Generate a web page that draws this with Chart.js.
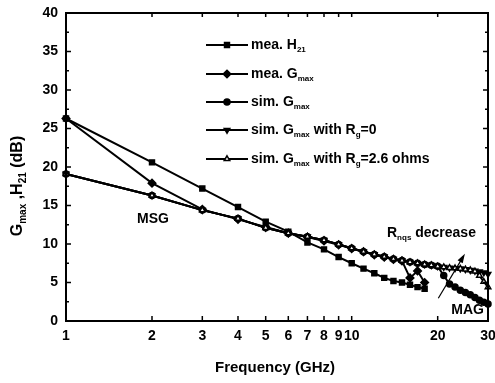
<!DOCTYPE html>
<html>
<head>
<meta charset="utf-8">
<script src="https://cdn.jsdelivr.net/npm/chart.js@4.4.1/dist/chart.umd.min.js"></script>
<style>
  html, body { margin: 0; padding: 0; background: #fff; }
</style>
</head>
<body>
<canvas id="chart" width="495" height="383"></canvas>
<script>
var freqMea = [1, 2, 3, 4, 5, 6, 7, 8, 9, 10, 11, 12, 13, 14, 15, 16, 17, 18];
var h21Mea = [26.3, 20.6, 17.2, 14.8, 12.9, 11.6, 10.2, 9.3, 8.3, 7.5, 6.8, 6.2, 5.6, 5.2, 5.0, 4.7, 4.4, 4.2];
var gmaxMea = [26.3, 17.9, 14.5, 13.2, 12.2, 11.4, 10.9, 10.4, 9.9, 9.4, 9.0, 8.6, 8.3, 8.0, 7.8, 5.6, 6.5, 5.0];

// simulated data, 1..30 GHz
var freqSim = [1, 2, 3, 4, 5, 6, 7, 8, 9, 10, 11, 12, 13, 14, 15, 16, 17, 18, 19, 20, 21, 22, 23, 24, 25, 26, 27, 28, 29, 30];
var gmaxSim = [19.1, 16.3, 14.4, 13.3, 12.1, 11.4, 10.95, 10.5, 9.95, 9.45, 9.0, 8.65, 8.35, 8.05, 7.85, 7.65, 7.5, 7.35, 7.25, 7.1,
               5.9, 4.8, 4.4, 4.0, 3.7, 3.4, 3.05, 2.7, 2.45, 2.2];
var gmaxRg0 = [19.1, 16.3, 14.4, 13.3, 12.1, 11.4, 10.95, 10.5, 9.95, 9.45, 9.0, 8.65, 8.35, 8.05, 7.85, 7.65, 7.5, 7.35, 7.25, 7.1,
               7.0, 6.9, 6.85, 6.8, 6.7, 6.6, 6.5, 6.4, 6.3, 6.1];
var gmaxRg26 = [19.1, 16.3, 14.4, 13.3, 12.1, 11.4, 10.95, 10.5, 9.95, 9.45, 9.0, 8.65, 8.35, 8.05, 7.85, 7.65, 7.5, 7.35, 7.25, 7.1,
                7.0, 6.9, 6.85, 6.8, 6.7, 6.6, 6.45, 5.9, 5.1, 4.4];

var xTicks = [1, 2, 3, 4, 5, 6, 7, 8, 9, 10, 20, 30];
var yTicks = [0, 5, 10, 15, 20, 25, 30, 35, 40];

var FONT = "'Liberation Sans', Arial, sans-serif";

function pts(xs, ys) {
  var out = [];
  for (var i = 0; i < xs.length; i++) out.push({x: xs[i], y: ys[i]});
  return out;
}

var series = [
  {label: 'mea. H21', data: pts(freqMea, h21Mea), pointStyle: 'rect', pointRadius: 3.5, rot: 0, fill: '#000', order: 5},
  {label: 'mea. Gmax', data: pts(freqMea, gmaxMea), pointStyle: 'rectRot', pointRadius: 3.8, rot: 0, fill: '#000', order: 4},
  {label: 'sim. Gmax', data: pts(freqSim, gmaxSim), pointStyle: 'circle', pointRadius: 3, rot: 0, fill: '#000', order: 3},
  {label: 'sim. Gmax with Rg=0', data: pts(freqSim, gmaxRg0), pointStyle: 'triangle', pointRadius: 3.2, rot: 180, fill: '#000', order: 2},
  {label: 'sim. Gmax with Rg=2.6 ohms', data: pts(freqSim, gmaxRg26), pointStyle: 'triangle', pointRadius: 3.2, rot: 0, fill: '#fff', order: 1}
];

// rich text with subscripts: parts = [[text, isSub], ...]
function richWidth(ctx, parts, size) {
  var w = 0;
  parts.forEach(function (p) {
    ctx.font = 'bold ' + (p[1] ? Math.round(size * 0.6) : size) + 'px ' + FONT;
    w += ctx.measureText(p[0]).width;
  });
  return w;
}
function drawRich(ctx, parts, x, y, size) {
  ctx.textAlign = 'left';
  ctx.textBaseline = 'middle';
  parts.forEach(function (p) {
    var s = p[1] ? Math.round(size * 0.6) : size;
    ctx.font = 'bold ' + s + 'px ' + FONT;
    ctx.fillText(p[0], x, p[1] ? y + size * 0.32 : y);
    x += ctx.measureText(p[0]).width;
  });
}

var legendText = [
  [['mea. H', 0], ['21', 1]],
  [['mea. G', 0], ['max', 1]],
  [['sim. G', 0], ['max', 1]],
  [['sim. G', 0], ['max', 1], [' with R', 0], ['g', 1], ['=0', 0]],
  [['sim. G', 0], ['max', 1], [' with R', 0], ['g', 1], ['=2.6 ohms', 0]]
];
var legendY = [45, 74, 102, 130, 159];

var decor = {
  id: 'decor',
  afterDraw: function (chart) {
    var ctx = chart.ctx;
    var xs = chart.scales.x, ys = chart.scales.y;
    var L = xs.left, R = xs.right, T = ys.top, B = ys.bottom;
    ctx.save();
    ctx.setLineDash([]);
    ctx.strokeStyle = '#000';
    ctx.fillStyle = '#000';

    // frame
    ctx.lineWidth = 2;
    ctx.beginPath();
    ctx.moveTo(L, T); ctx.lineTo(R, T); ctx.lineTo(R, B); ctx.lineTo(L, B); ctx.closePath();
    ctx.stroke();

    // inward tick marks
    ctx.lineWidth = 1.5;
    ctx.beginPath();
    xTicks.forEach(function (v) {
      var px = xs.getPixelForValue(v);
      ctx.moveTo(px, B); ctx.lineTo(px, B - 5);
      ctx.moveTo(px, T); ctx.lineTo(px, T + 4);
    });
    for (var k = 0; k <= 16; k++) {
      var py = ys.getPixelForValue(k * 2.5);
      var len = (k % 2 === 0) ? 5 : 3;
      ctx.moveTo(L, py); ctx.lineTo(L + len, py);
      ctx.moveTo(R, py); ctx.lineTo(R - len, py);
    }
    ctx.stroke();

    // legend
    series.forEach(function (s, i) {
      var y = legendY[i];
      ctx.lineWidth = 2;
      ctx.strokeStyle = '#000';
      ctx.beginPath();
      ctx.moveTo(206, y); ctx.lineTo(248, y);
      ctx.stroke();
      ctx.fillStyle = s.fill;
      ctx.lineWidth = 1.5;
      Chart.helpers.drawPoint(ctx, {pointStyle: s.pointStyle, rotation: s.rot, radius: s.pointRadius, borderWidth: 1.5}, 227, y);
      ctx.fillStyle = '#000';
      drawRich(ctx, legendText[i], 251, y, 14);
    });

    // annotations
    drawRich(ctx, [['MSG', 0]], 137, 219, 14);
    drawRich(ctx, [['R', 0], ['nqs', 1], [' decrease', 0]], 387, 233, 14);
    ctx.textAlign = 'right';
    ctx.font = 'bold 14px ' + FONT;
    ctx.fillText('MAG', 484, 310);

    // R_nqs arrow
    var x0 = xs.getPixelForValue(20.1), y0 = ys.getPixelForValue(2.95);
    var x1 = xs.getPixelForValue(24.6), y1 = ys.getPixelForValue(8.4);
    ctx.lineWidth = 1.2;
    ctx.beginPath();
    ctx.moveTo(x0, y0); ctx.lineTo(x1, y1);
    ctx.stroke();
    var ang = Math.atan2(y1 - y0, x1 - x0);
    ctx.beginPath();
    ctx.moveTo(x1 + Math.cos(ang) * 3, y1 + Math.sin(ang) * 3);
    ctx.lineTo(x1 + Math.cos(ang + 2.7) * 7, y1 + Math.sin(ang + 2.7) * 7);
    ctx.lineTo(x1 + Math.cos(ang - 2.7) * 7, y1 + Math.sin(ang - 2.7) * 7);
    ctx.closePath();
    ctx.fill();

    // axis titles
    ctx.textAlign = 'center';
    ctx.textBaseline = 'middle';
    ctx.font = 'bold 15px ' + FONT;
    ctx.fillText('Frequency (GHz)', 275, 368);

    var yt = [['G', 0], ['max', 1], [' ,H', 0], ['21', 1], [' (dB)', 0]];
    ctx.translate(18, 186);
    ctx.rotate(-Math.PI / 2);
    drawRich(ctx, yt, -richWidth(ctx, yt, 16) / 2, 0, 16);
    ctx.restore();
  }
};

var datasets = series.map(function (s) {
  return {
    label: s.label,
    data: s.data,
    borderColor: '#000',
    borderWidth: 2,
    backgroundColor: s.fill,
    pointStyle: s.pointStyle,
    pointRotation: s.rot,
    pointRadius: s.pointRadius,
    pointBorderWidth: 1.5,
    pointBorderColor: '#000',
    pointBackgroundColor: s.fill,
    tension: 0,
    fill: false,
    clip: false,
    order: s.order
  };
});

var tickFont = {family: FONT, size: 14, weight: 'bold'};

new Chart(document.getElementById('chart'), {
  type: 'line',
  data: {datasets: datasets},
  options: {
    responsive: false,
    animation: false,
    devicePixelRatio: 1,
    layout: {padding: {left: 0, top: 13, right: 7, bottom: 0}},
    plugins: {legend: {display: false}, tooltip: {enabled: false}},
    scales: {
      x: {
        type: 'logarithmic',
        min: 1,
        max: 30,
        afterBuildTicks: function (s) { s.ticks = xTicks.map(function (v) { return {value: v}; }); },
        afterFit: function (s) { s.height = 62; s.paddingLeft = 0; s.paddingRight = 0; },
        ticks: {
          font: tickFont, color: '#000', padding: 7, autoSkip: false, maxRotation: 0,
          callback: function (v) { return String(v); }
        },
        grid: {display: false, drawTicks: false},
        border: {display: false}
      },
      y: {
        min: 0,
        max: 40,
        afterBuildTicks: function (s) { s.ticks = yTicks.map(function (v) { return {value: v}; }); },
        afterFit: function (s) { s.width = 66; s.paddingTop = 0; s.paddingBottom = 0; },
        ticks: {font: tickFont, color: '#000', padding: 8},
        grid: {display: false, drawTicks: false},
        border: {display: false}
      }
    }
  },
  plugins: [decor]
});
</script>
</body>
</html>
